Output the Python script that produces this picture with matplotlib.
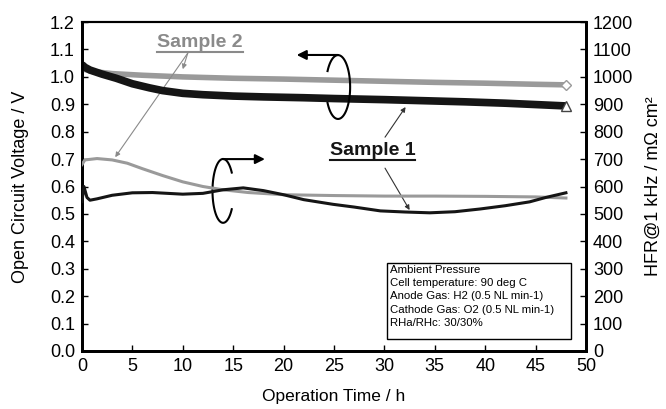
import matplotlib
matplotlib.use("Agg")
import matplotlib.pyplot as plt
import numpy as np
from matplotlib.patches import Rectangle
from matplotlib.lines import Line2D
from matplotlib.transforms import IdentityTransform

plt.rcParams["font.family"] = ["Liberation Sans", "DejaVu Sans"]

# OCV readings (left axis, V)
t_ocv1 = [0, 0.3, 0.8, 2, 3.4, 5, 6.7, 8, 10, 12, 15, 18, 22, 25, 30, 35, 38, 42, 45, 48]
ocv1 = [1.045, 1.035, 1.025, 1.01, 0.995, 0.975, 0.96, 0.95, 0.94, 0.935, 0.93, 0.927,
        0.924, 0.921, 0.917, 0.912, 0.909, 0.904, 0.899, 0.894]
t_ocv2 = [0, 1, 3, 6, 10, 15, 20, 25, 30, 35, 40, 45, 48]
ocv2 = [1.03, 1.02, 1.012, 1.006, 1.0, 0.995, 0.992, 0.988, 0.984, 0.98, 0.977, 0.973, 0.971]

# HFR readings (right axis, mOhm cm2)
t_hfr1 = [0, 0.2, 0.5, 0.8, 1.5, 3, 5, 7, 10, 12, 14, 16, 18, 20, 22, 24.9, 27, 29.6,
          32, 34.5, 37, 39.5, 42, 44.4, 46, 48]
hfr1 = [545, 600, 560, 550, 555, 568, 577, 578, 572, 575, 588, 595, 585, 570, 552, 535,
        525, 511, 507, 504, 508, 518, 530, 544, 560, 577]
t_hfr2 = [0, 0.3, 1.5, 3, 4.5, 6, 8, 10, 12, 14, 16.5, 20, 25, 30, 35, 40, 45, 48]
hfr2 = [680, 697, 702, 697, 685, 665, 640, 617, 600, 588, 578, 570, 567, 565, 565, 564,
        562, 558]

conditions = [
    "Ambient Pressure",
    "Cell temperature: 90 deg C",
    "Anode Gas: H2 (0.5 NL min-1)",
    "Cathode Gas: O2 (0.5 NL min-1)",
    "RHa/RHc: 30/30%",
]

GRAY = "#9a9a9a"
BLACK = "#151515"


def draw_loop(ax, cx, cy, w, h, a0, a1):
    """open ellipse outline from angle a0 to a1 (degrees, parametric)"""
    th = np.deg2rad(np.linspace(a0, a1, 120))
    ax.plot(cx + w / 2 * np.cos(th), cy + h / 2 * np.sin(th), color="black", lw=1.5,
            zorder=6)


fig = plt.figure(figsize=(6.66, 4.09), dpi=100)
ax = fig.add_axes([0.123, 0.142, 0.757, 0.804])
ax2 = ax.twinx()

ax.plot(t_ocv2, ocv2, color=GRAY, lw=4, solid_capstyle="butt", zorder=3)
ax.plot(t_ocv1, ocv1, color=BLACK, lw=5.5, solid_capstyle="butt", zorder=4)
ax.plot(t_ocv2[-1:], ocv2[-1:], marker="D", ms=5, mfc="white", mec=GRAY, mew=1, zorder=5)
ax.plot(t_ocv1[-1:], ocv1[-1:], marker="^", ms=7, mfc="white", mec="#444444", mew=1, zorder=5)

ax2.plot(t_hfr2, hfr2, color=GRAY, lw=2.2, zorder=3)
ax2.plot(t_hfr1, hfr1, color=BLACK, lw=2.2, zorder=4)

ax.set_xlim(0, 50)
ax.set_ylim(0, 1.2)
ax2.set_ylim(0, 1200)
ax.set_xticks(range(0, 51, 5))
ax.set_yticks([i / 10 for i in range(13)])
ax.set_yticklabels([f"{i / 10:.1f}" for i in range(13)])
ax2.set_yticks(range(0, 1201, 100))

for a in (ax, ax2):
    a.tick_params(direction="in", length=4, width=1, labelsize=13, pad=5)
    for side in ("left", "bottom", "right"):
        a.spines[side].set_linewidth(2)
    a.spines["top"].set_linewidth(1.5)

ax.set_xlabel("Operation Time / h", fontsize=12.5, labelpad=10)
ax.set_ylabel("Open Circuit Voltage / V", fontsize=13, labelpad=15)
ax2.set_ylabel("HFR@1 kHz / mΩ cm²", fontsize=13, labelpad=8)

# sample labels
s2 = ax.text(11.7, 1.127, "Sample 2", color="#8a8a8a", fontsize=14, fontweight="bold",
             ha="center", va="center", zorder=6)
s1 = ax.text(28.8, 0.733, "Sample 1", color=BLACK, fontsize=14, fontweight="bold",
             ha="center", va="center", zorder=6)

thin_gray = dict(arrowstyle="-|>", color="#8a8a8a", lw=0.8, mutation_scale=7,
                 shrinkA=0, shrinkB=0)
ax.annotate("", xy=(3.3, 0.707), xytext=(10.5, 1.087), arrowprops=thin_gray)
ax.annotate("", xy=(10.0, 1.028), xytext=(10.5, 1.087), arrowprops=thin_gray)
thin_black = dict(arrowstyle="-|>", color="#333333", lw=0.8, mutation_scale=7,
                  shrinkA=0, shrinkB=0)
ax.annotate("", xy=(32.1, 0.89), xytext=(30.06, 0.78), arrowprops=thin_black)
ax.annotate("", xy=(32.5, 0.514), xytext=(30.06, 0.667), arrowprops=thin_black)

# axis indicator loops
draw_loop(ax, 25.4, 0.963, 2.4, 0.233, -150, 150)
ax.annotate("", xy=(21.3, 1.08), xytext=(25.4, 1.08),
            arrowprops=dict(arrowstyle="-|>", color="black", lw=1.5,
                            mutation_scale=14, shrinkA=0, shrinkB=0), zorder=6)
draw_loop(ax, 14.0, 0.584, 2.1, 0.233, 35, 325)
ax.annotate("", xy=(18.15, 0.70), xytext=(14.0, 0.70),
            arrowprops=dict(arrowstyle="-|>", color="black", lw=1.5,
                            mutation_scale=14, shrinkA=0, shrinkB=0), zorder=6)

# conditions box
ax.add_patch(Rectangle((0.605, 0.036), 0.365, 0.231, transform=ax.transAxes,
                       fill=True, facecolor="white", edgecolor="black", lw=1, zorder=6))
ax.text(0.612, 0.262, "\n".join(conditions), transform=ax.transAxes, fontsize=8.2,
        ha="left", va="top", linespacing=1.42, zorder=7)

# underline sample labels
fig.canvas.draw()
for txt, col in ((s2, "#8a8a8a"), (s1, BLACK)):
    bb = txt.get_window_extent()
    fig.add_artist(Line2D([bb.x0, bb.x1], [bb.y0 - 1, bb.y0 - 1], color=col, lw=1.5,
                          transform=IdentityTransform()))

fig.savefig("out.png", dpi=100)
